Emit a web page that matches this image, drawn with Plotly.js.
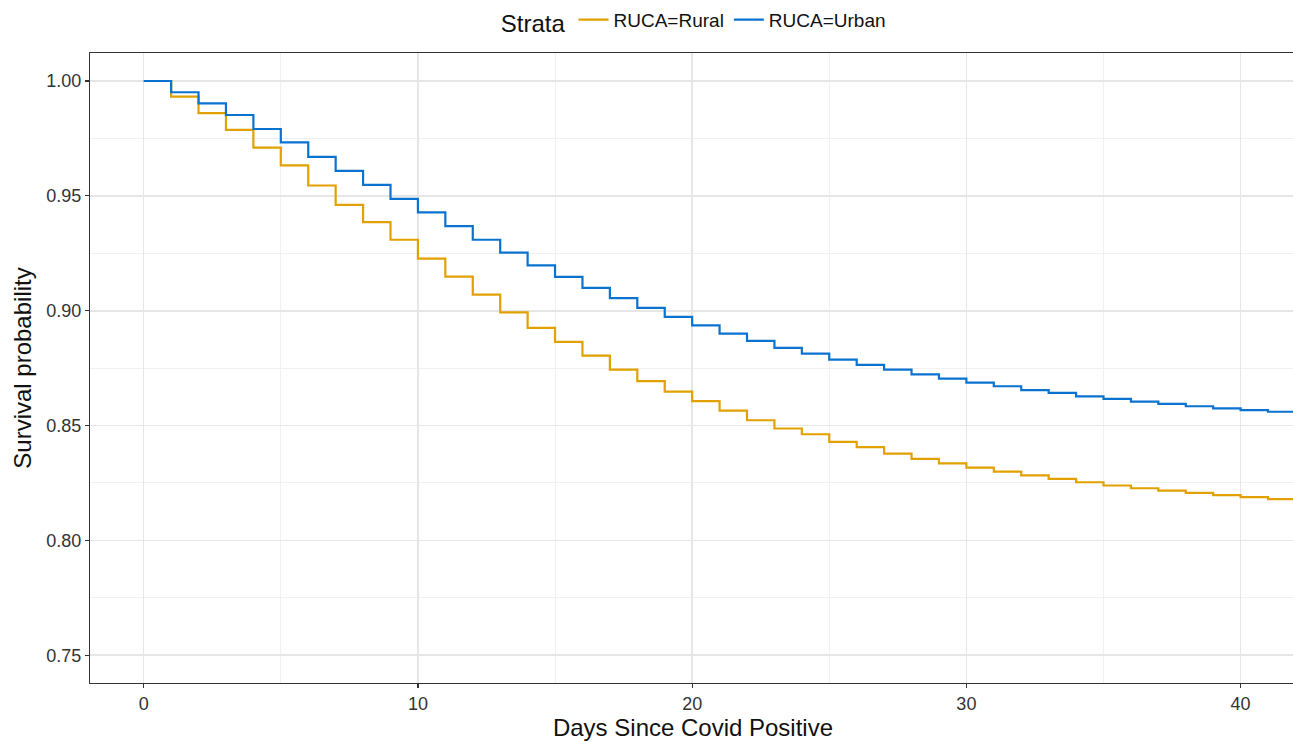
<!DOCTYPE html>
<html>
<head>
<meta charset="utf-8">
<script src="https://cdn.plot.ly/plotly-3.0.1.min.js"></script>
<style>
html,body{margin:0;padding:0;overflow:hidden;background:#fff;}
#chart{width:1296px;height:742px;}
</style>
</head>
<body>
<div id="chart"></div>
<script>
var days = [0,1,2,3,4,5,6,7,8,9,10,11,12,13,14,15,16,17,18,19,20,21,22,23,24,25,26,27,28,29,30,31,32,33,34,35,36,37,38,39,40,41,42];
var urban = [1.000,0.9951,0.9903,0.9852,0.9791,0.9733,0.9670,0.9609,0.9548,0.9487,0.9428,0.9368,0.9309,0.9253,0.9197,0.9147,0.9099,0.9055,0.9012,0.8973,0.8936,0.8900,0.8869,0.8838,0.8813,0.8787,0.8764,0.8743,0.8723,0.8704,0.8687,0.8671,0.8654,0.8642,0.8627,0.8616,0.8604,0.8594,0.8584,0.8575,0.8567,0.8560,0.8560];
var rural = [1.000,0.9932,0.9860,0.9787,0.9710,0.9633,0.9545,0.9461,0.9386,0.9309,0.9227,0.9148,0.9070,0.8993,0.8925,0.8864,0.8804,0.8743,0.8693,0.8648,0.8606,0.8565,0.8523,0.8487,0.8462,0.8429,0.8406,0.8378,0.8355,0.8335,0.8317,0.8299,0.8283,0.8268,0.8253,0.8239,0.8227,0.8217,0.8207,0.8197,0.8188,0.8180,0.8180];
var seriesNames = ["RUCA=Rural","RUCA=Urban"];
var xTicks = [0,10,20,30,40];
var yTicks = [0.75,0.80,0.85,0.90,0.95,1.00];
var yTickText = ["0.75","0.80","0.85","0.90","0.95","1.00"];

var font = "Liberation Sans, Arial, sans-serif";
var traces = [
  {x: days, y: rural, name: seriesNames[0], type: "scatter", mode: "lines",
   line: {shape: "hv", color: "#E1A100", width: 2.2}},
  {x: days, y: urban, name: seriesNames[1], type: "scatter", mode: "lines",
   line: {shape: "hv", color: "#0A72CF", width: 2.2}}
];
var layout = {
  width: 1296, height: 742,
  margin: {l: 90, r: 0, t: 53, b: 59},
  paper_bgcolor: "#fff", plot_bgcolor: "#fff",
  font: {family: font, color: "#222"},
  showlegend: true,
  legend: {
    orientation: "h", x: 0.339, xanchor: "left", y: 1.083, yanchor: "top",
    title: {text: "Strata", font: {size: 24, color: "#111", family: font}, side: "left"},
    font: {size: 19, color: "#111", family: font},
    itemwidth: 30, tracegroupgap: 0, bgcolor: "rgba(0,0,0,0)"
  },
  xaxis: {
    range: [-1.958, 42.02], tickvals: xTicks, ticktext: xTicks.map(String),
    showgrid: true, gridcolor: "#E6E6E6", gridwidth: 1.6,
    minor: {tickvals: [5,15,25,35], showgrid: true, gridcolor: "#F0F0F0", gridwidth: 0.9, ticks: ""},
    zeroline: false, showline: true, mirror: true, linecolor: "#333", linewidth: 1.2,
    ticks: "outside", ticklen: 4, tickwidth: 1.2, tickcolor: "#333",
    tickfont: {size: 18, color: "#333", family: font},
    title: {text: "Days Since Covid Positive", font: {size: 24, color: "#111", family: font}, standoff: 4}
  },
  yaxis: {
    range: [0.7379, 1.0122], tickvals: yTicks, ticktext: yTickText,
    showgrid: true, gridcolor: "#E6E6E6", gridwidth: 1.6,
    minor: {tickvals: [0.775,0.825,0.875,0.925,0.975], showgrid: true, gridcolor: "#F0F0F0", gridwidth: 0.9, ticks: ""},
    zeroline: false, showline: true, mirror: true, linecolor: "#333", linewidth: 1.2,
    ticks: "outside", ticklen: 4, tickwidth: 1.2, tickcolor: "#333",
    tickfont: {size: 18, color: "#333", family: font},
    title: {text: "Survival probability", font: {size: 24, color: "#111", family: font}, standoff: 7}
  }
};
Plotly.newPlot("chart", traces, layout, {displayModeBar: false, staticPlot: true});
</script>
</body>
</html>
